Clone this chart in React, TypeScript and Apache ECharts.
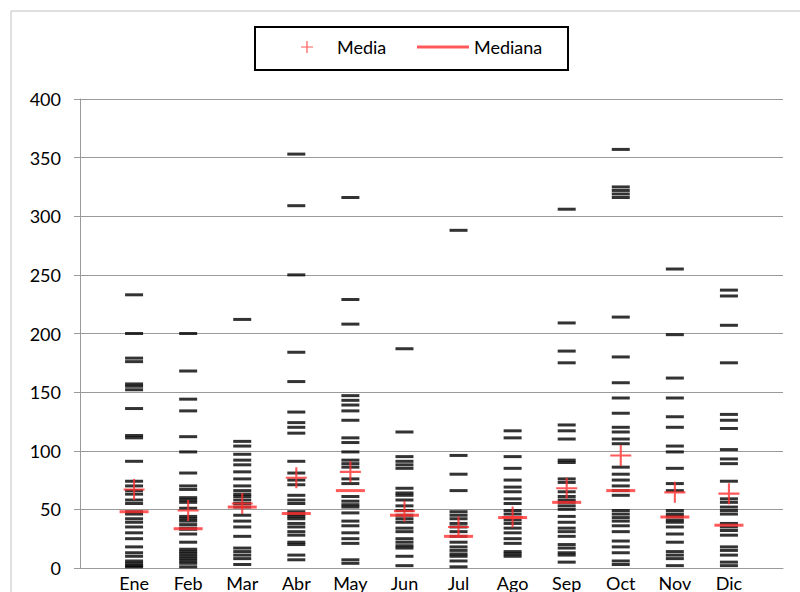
import React, { useEffect, useRef } from "react";
import * as echarts from "echarts";

const months = ["Ene", "Feb", "Mar", "Abr", "May", "Jun", "Jul", "Ago", "Sep", "Oct", "Nov", "Dic"];

const ene = [233, 200, 179, 176, 157, 155, 152, 136, 113, 111, 91, 74, 70, 66, 63, 58, 55, 48, 46, 42, 39, 35, 30, 25, 18, 13, 10, 6, 4, 2, 1];
const feb = [200, 168, 144, 134, 112, 99, 81, 70, 67, 60, 58, 56, 51, 44, 42, 40, 37, 34, 33, 29, 22, 16, 14, 12, 10, 8, 6, 4, 1];
const mar = [212, 108, 104, 97, 92, 88, 82, 76, 70, 66, 63, 61, 58, 55, 52, 45, 40, 35, 27, 17, 14, 11, 8, 3];
const abr = [353, 309, 250, 184, 159, 133, 124, 120, 115, 91, 81, 75, 71, 62, 58, 55, 48, 46, 44, 42, 38, 35, 31, 28, 22, 20, 11, 7];
const may = [316, 229, 208, 147, 143, 139, 134, 126, 111, 107, 99, 92, 89, 86, 76, 72, 61, 57, 54, 52, 47, 40, 36, 30, 25, 21, 7, 4];
const jun = [187, 116, 95, 91, 88, 85, 68, 64, 62, 58, 53, 49, 45, 42, 39, 34, 31, 25, 22, 19, 17, 10, 2];
const jul = [288, 96, 80, 66, 48, 45, 42, 38, 35, 31, 27, 22, 18, 15, 12, 10, 6, 1];
const ago = [117, 111, 95, 85, 75, 69, 65, 59, 55, 49, 46, 41, 38, 34, 30, 25, 21, 14, 12, 10];
const sep = [306, 209, 185, 175, 122, 117, 110, 92, 90, 76, 73, 65, 61, 58, 56, 53, 50, 44, 39, 34, 31, 27, 20, 17, 13, 11, 5];
const oct = [357, 325, 322, 319, 316, 214, 180, 158, 145, 132, 120, 116, 110, 106, 86, 80, 75, 70, 66, 62, 49, 46, 43, 40, 36, 31, 23, 18, 13, 6, 3];
const nov = [255, 199, 162, 145, 129, 120, 104, 99, 85, 72, 66, 49, 46, 44, 41, 39, 35, 29, 22, 14, 11, 8, 2];
const dic = [237, 232, 207, 175, 131, 126, 119, 101, 93, 89, 74, 59, 56, 52, 49, 46, 38, 35, 32, 28, 18, 15, 11, 5, 2];

const media = [67, 49, 55, 77, 82, 48.5, 35, 43.5, 68, 96, 64.5, 63.4];
const mediana = [48, 33.5, 52, 46.5, 66, 45, 27, 43, 56, 66, 43.5, 36.5];

const yTicks = [0, 50, 100, 150, 200, 250, 300, 350, 400];

const monthly = [ene, feb, mar, abr, may, jun, jul, ago, sep, oct, nov, dic];

const CROSS = "path://M9,0H11V9H20V11H11V20H9V11H0V9H9Z";
const RED = "#ff3030";
const FONT = "Lato, 'Noto Sans', sans-serif";

export default function App() {
  const ref = useRef<HTMLDivElement>(null);
  useEffect(() => {
    if (!ref.current) return;
    const chart = echarts.init(ref.current, undefined, { renderer: "svg" });
    const points: number[][] = [];
    monthly.forEach((arr, i) => arr.forEach((v) => points.push([i + 1, v])));
    chart.setOption({
      animation: false,
      backgroundColor: "#ffffff",
      textStyle: { fontFamily: FONT },
      grid: { left: 80, right: 17, top: 99, bottom: 21, containLabel: false },
      graphic: [
        {
          type: "rect",
          shape: { x: 11, y: 11, width: 820, height: 620 },
          style: { fill: "none", stroke: "#c0c0c0", lineWidth: 1 },
          silent: true,
          z: -10,
        },
        {
          type: "rect",
          shape: { x: 255, y: 27, width: 313, height: 43 },
          style: { fill: "none", stroke: "#000000", lineWidth: 2 },
          silent: true,
        },
      ],
      legend: [
        {
          data: [{ name: "Media", icon: CROSS }],
          left: 301,
          top: 38,
          padding: 0,
          itemWidth: 50,
          itemHeight: 12,
          textStyle: { fontSize: 18, color: "#000", fontFamily: FONT },
          selectedMode: false,
        },
        {
          data: [{ name: "Mediana", icon: "rect" }],
          left: 417,
          top: 38,
          padding: 0,
          itemWidth: 52,
          itemHeight: 3,
          textStyle: { fontSize: 18, color: "#000", fontFamily: FONT },
          selectedMode: false,
        },
      ],
      xAxis: {
        type: "value",
        min: 0,
        max: 13,
        interval: 1,
        axisLine: { show: true, lineStyle: { color: "#9a9a9a", width: 1 } },
        axisTick: { show: false },
        splitLine: { show: false },
        axisLabel: {
          show: true,
          margin: 6,
          fontSize: 18,
          color: "#000",
          fontFamily: FONT,
          showMinLabel: true,
          showMaxLabel: true,
          formatter: (v: number) => months[v - 1] ?? "",
        },
      },
      yAxis: {
        type: "value",
        min: yTicks[0],
        max: yTicks[yTicks.length - 1],
        interval: 50,
        axisLine: { show: true, lineStyle: { color: "#9a9a9a", width: 1 } },
        axisTick: { show: true, length: 6, lineStyle: { color: "#9a9a9a" } },
        splitLine: { show: true, lineStyle: { color: "#9a9a9a", width: 1 } },
        axisLabel: { margin: 19, fontSize: 18, color: "#000", fontFamily: FONT },
      },
      series: [
        {
          name: "Datos",
          type: "scatter",
          data: points,
          symbol: "rect",
          symbolSize: [18, 3],
          itemStyle: { color: "#000000" },
          z: 2,
        },
        {
          name: "Mediana",
          type: "scatter",
          data: mediana.map((v, i) => [i + 1, v]),
          symbol: "rect",
          symbolSize: [29, 3],
          itemStyle: { color: RED },
          z: 3,
        },
        {
          name: "Media",
          type: "scatter",
          data: media.map((v, i) => [i + 1, v]),
          symbol: CROSS,
          symbolSize: 21,
          itemStyle: { color: RED },
          z: 4,
        },
      ],
    });
    return () => chart.dispose();
  }, []);
  return <div ref={ref} style={{ width: 800, height: 592, position: "absolute", left: 0, top: 0 }} />;
}
